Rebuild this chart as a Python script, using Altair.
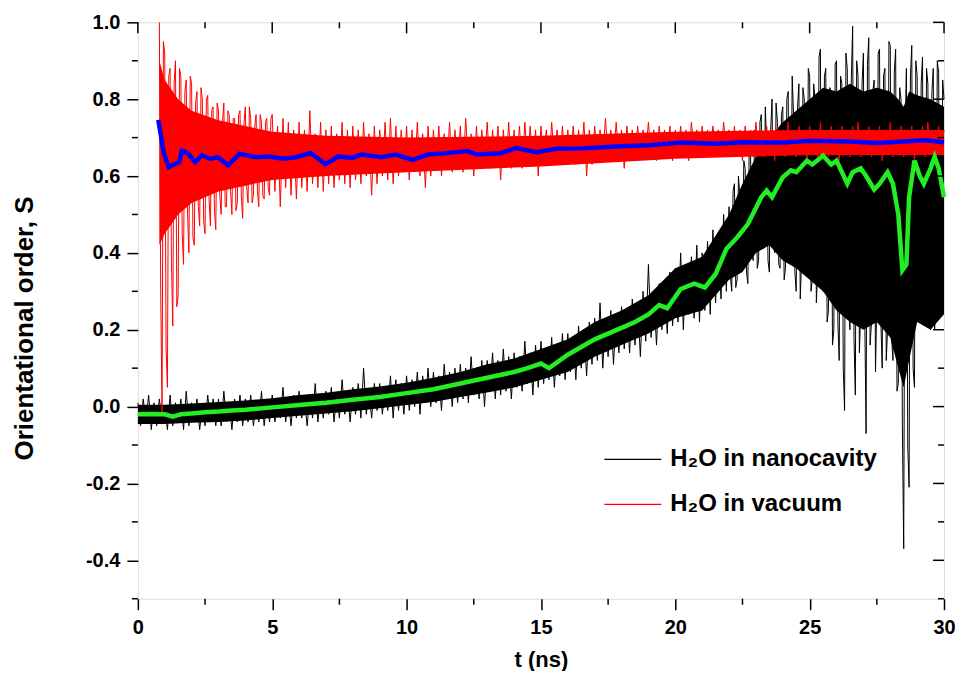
import altair as alt
import pandas as pd

FONT = "Liberation Sans"
W, H = 807, 577

# ---------------- data ----------------
# black: H2O in nanocavity (raw signal, sampled every 0.1 ns from 0 to 30 ns)
black_vals = [
    0.01,-0.05,0.02,-0.04,0.03,-0.06,0.01,-0.05,0.02,-0.04,
    0.00,-0.06,0.03,-0.05,0.01,-0.04,0.02,-0.06,0.04,-0.05,
    0.01,-0.04,0.02,-0.06,0.00,-0.05,0.03,-0.04,0.02,-0.05,
    0.02,-0.05,0.04,-0.04,0.01,-0.06,0.02,-0.04,0.03,-0.05,
    0.02,-0.04,0.03,-0.05,0.01,-0.04,0.04,-0.05,0.02,-0.04,
    0.03,-0.04,0.02,-0.03,0.05,-0.04,0.02,-0.05,0.03,-0.03,
    0.04,-0.03,0.02,-0.05,0.03,-0.03,0.06,-0.04,0.03,-0.03,
    0.04,-0.02,0.05,-0.04,0.03,-0.03,0.07,-0.02,0.04,-0.04,
    0.05,-0.02,0.06,-0.03,0.10,-0.02,0.04,-0.03,0.06,-0.01,
    0.06,-0.02,0.05,-0.01,0.08,-0.03,0.07,-0.01,0.06,-0.02,
    0.08,-0.01,0.07,0.00,0.09,-0.02,0.08,0.01,0.10,0.00,
    0.09,0.01,0.08,-0.01,0.11,0.02,0.09,0.00,0.10,0.01,
    0.11,0.02,0.10,0.01,0.13,0.03,0.10,0.02,0.12,0.00,
    0.12,0.04,0.14,0.02,0.12,0.03,0.15,0.04,0.13,0.02,
    0.14,0.05,0.13,0.04,0.17,0.06,0.14,0.03,0.16,0.05,
    0.17,0.06,0.15,0.07,0.18,0.05,0.16,0.08,0.19,0.07,
    0.19,0.09,0.18,0.07,0.21,0.10,0.20,0.08,0.22,0.11,
    0.23,0.12,0.27,0.10,0.22,0.13,0.25,0.11,0.24,0.14,
    0.26,0.15,0.25,0.14,0.28,0.16,0.27,0.13,0.30,0.17,
    0.37,0.18,0.30,0.16,0.32,0.20,0.31,0.19,0.35,0.21,
    0.36,0.22,0.40,0.20,0.37,0.24,0.39,0.23,0.42,0.22,
    0.40,0.25,0.43,0.24,0.46,0.27,0.44,0.28,0.50,0.30,
    0.52,0.30,0.58,0.33,0.55,0.36,0.62,0.32,0.66,0.38,
    0.70,0.38,0.76,0.42,0.68,0.35,0.80,0.40,0.74,0.36,
    0.78,0.36,0.82,0.40,0.76,0.30,0.84,0.38,0.80,0.34,
    0.86,0.33,0.80,0.36,0.93,0.30,0.88,0.25,0.82,0.20,
    0.90,0.12,0.84,-0.01,0.88,0.20,0.99,0.03,0.86,0.25,
    0.92,-0.07,0.96,0.22,0.85,0.28,0.93,0.10,0.88,0.20,
    0.94,0.12,0.93,0.06,0.80,-0.37,0.88,-0.21,0.94,0.05,
    0.86,0.25,0.91,0.30,0.84,0.20,0.88,0.28,0.87,0.24,
    0.80,
]
black_t0 = 0.0
# extra black samples in the very noisy end part (22.05 ... 29.95 ns, every 0.1 ns)
black_vals_b = [
    0.34,0.56,0.31,0.60,0.37,0.64,0.35,0.68,0.40,0.72,
    0.36,0.74,0.41,0.78,0.38,0.72,0.43,0.79,0.37,0.76,
    0.33,0.80,0.39,0.86,0.35,0.78,0.28,0.83,0.37,0.88,
    0.30,0.84,0.27,0.91,0.33,0.86,0.22,0.83,0.16,0.89,
    0.22,0.86,0.10,0.92,0.26,0.85,0.18,0.90,0.14,0.84,
    0.24,0.89,0.16,0.82,0.09,0.92,0.22,0.86,0.12,0.95,
    0.18,0.87,0.04,0.83,-0.05,0.70,-0.10,0.86,0.10,0.90,
    0.28,0.84,0.22,0.88,0.32,0.82,0.20,0.90,0.26,0.85,
]
black_b_t0 = 22.05

# dense core of the black trace (t, lower, upper)
bcore_t  = [0,1,2,3,4,5,6,7,8,9,10,11,12,13,14,15,16,17,18,19,20,21,
            22,22.5,23,23.5,24,24.5,25,25.5,26,26.5,27,27.5,28,28.3,28.5,28.7,29,29.5,30]
bcore_lo = [-0.045,-0.045,-0.042,-0.04,-0.036,-0.03,-0.024,-0.018,-0.012,-0.004,
            0.004,0.012,0.025,0.037,0.05,0.07,0.09,0.13,0.16,0.19,0.23,0.25,
            0.33,0.35,0.40,0.42,0.38,0.36,0.33,0.30,0.25,0.22,0.20,0.22,0.18,0.10,0.05,0.12,
            0.22,0.20,0.24]
bcore_hi = [0.005,0.005,0.008,0.012,0.016,0.022,0.03,0.036,0.045,0.052,
            0.062,0.075,0.09,0.11,0.125,0.15,0.175,0.22,0.25,0.29,0.36,0.39,
            0.50,0.58,0.65,0.70,0.74,0.77,0.80,0.83,0.82,0.84,0.82,0.83,0.82,0.80,0.78,0.82,
            0.81,0.80,0.78]

# red: H2O in vacuum (raw signal, every 0.1 ns from 0.8 to 30 ns)
red_vals = [
    1.00,-0.02,
    0.92,0.05,0.88,0.21,0.90,0.29,0.86,0.37,0.85,0.40,
    0.84,0.42,0.82,0.47,0.80,0.45,0.81,0.47,0.78,0.46,
    0.77,0.50,0.79,0.52,0.76,0.50,0.75,0.53,0.77,0.49,
    0.78,0.53,0.75,0.55,0.76,0.52,0.74,0.54,0.75,0.55,
    0.76,0.56,0.73,0.52,0.75,0.57,0.74,0.55,0.72,0.54,
    0.74,0.57,0.72,0.56,0.77,0.58,0.71,0.57,0.74,0.56,
    0.72,0.58,0.73,0.57,0.71,0.59,0.74,0.58,0.72,0.57,
    0.73,0.59,0.72,0.58,0.74,0.60,0.71,0.55,0.73,0.58,
    0.72,0.60,0.74,0.59,0.75,0.58,0.73,0.60,0.72,0.61,
    0.73,0.59,0.72,0.61,0.74,0.60,0.71,0.57,0.73,0.60,
    0.72,0.62,0.73,0.60,0.71,0.62,0.74,0.61,0.72,0.62,
    0.73,0.61,0.75,0.63,0.71,0.60,0.73,0.62,0.72,0.63,
    0.74,0.62,0.72,0.63,0.73,0.59,0.72,0.63,0.74,0.62,
    0.72,0.63,0.73,0.62,0.74,0.64,0.73,0.63,0.72,0.60,
    0.73,0.64,0.72,0.63,0.74,0.64,0.72,0.63,0.73,0.64,
    0.72,0.64,0.73,0.63,0.72,0.65,0.74,0.60,0.72,0.63,
    0.73,0.65,0.72,0.64,0.75,0.65,0.72,0.64,0.74,0.65,
    0.72,0.62,0.73,0.65,0.72,0.64,0.73,0.65,0.72,0.66,
    0.74,0.65,0.72,0.64,0.73,0.66,0.72,0.65,0.73,0.64,
    0.72,0.66,0.73,0.65,0.72,0.64,0.74,0.66,0.72,0.65,
    0.73,0.66,0.72,0.65,0.73,0.66,0.72,0.65,0.74,0.66,
    0.72,0.65,0.73,0.66,0.72,0.64,0.73,0.66,0.72,0.65,
    0.74,0.66,0.72,0.65,0.73,0.66,0.72,0.64,0.73,0.66,
    0.72,0.65,0.74,0.66,0.72,0.65,0.73,0.66,0.72,0.64,
    0.73,0.66,0.72,0.65,0.74,0.66,0.72,0.65,0.73,0.66,
    0.72,0.64,0.73,0.66,0.72,0.65,0.73,0.66,0.74,0.65,
    0.72,0.66,0.73,0.65,0.72,0.66,0.73,0.64,0.72,0.66,
    0.74,0.65,0.72,0.66,0.73,0.65,0.72,0.66,0.73,0.64,
    0.72,0.66,0.73,0.65,0.74,0.66,0.72,0.65,0.73,0.66,
    0.72,
]
red_t0 = 0.8
# extra red samples in the noisy start (0.85 ... 4.95 ns, every 0.1 ns)
red_vals_b = [
    0.30,0.95,0.15,0.86,0.38,0.84,0.26,0.88,0.45,0.82,
    0.50,0.86,0.44,0.79,0.52,0.83,0.48,0.80,0.54,0.77,
    0.51,0.79,0.55,0.74,0.52,0.77,0.56,0.75,0.51,0.76,
    0.55,0.74,0.57,0.78,0.53,0.73,0.56,0.76,0.55,0.74,
    0.57,0.75,
]
red_b_t0 = 0.85

rcore_t  = [0.8, 1.0, 1.5, 2, 3, 4, 5, 7, 10, 15, 20, 25, 30]
rcore_lo = [0.42, 0.45, 0.50, 0.53, 0.56, 0.575, 0.59, 0.60, 0.61, 0.625, 0.645, 0.655, 0.655]
rcore_hi = [0.90, 0.85, 0.80, 0.77, 0.745, 0.73, 0.715, 0.705, 0.70, 0.705, 0.715, 0.72, 0.72]

# smoothed curves
green_t = [0,0.5,1,1.3,1.6,2,2.5,3,3.5,4,5,6,7,8,9,10,11,12,13,14,14.5,15,15.3,16,17,18,18.5,19,
           19.4,19.7,20.2,20.7,21.1,21.5,21.9,22.3,22.7,23.2,23.4,23.6,24.0,24.3,24.5,24.9,25.1,
           25.5,25.8,26.0,26.4,26.6,26.9,27.1,27.4,27.6,27.9,28.1,28.3,28.45,28.6,28.7,28.9,29.1,
           29.25,29.5,29.65,29.8,30]
green_S = [-0.02,-0.019,-0.02,-0.026,-0.02,-0.018,-0.015,-0.013,-0.01,-0.008,-0.002,0.004,0.01,
           0.018,0.025,0.035,0.045,0.06,0.075,0.09,0.1,0.112,0.1,0.135,0.175,0.205,0.22,0.24,
           0.264,0.256,0.306,0.32,0.31,0.345,0.41,0.44,0.475,0.545,0.562,0.545,0.597,0.615,0.61,
           0.64,0.63,0.653,0.63,0.64,0.58,0.61,0.62,0.60,0.565,0.58,0.61,0.58,0.50,0.355,0.37,
           0.545,0.64,0.60,0.58,0.62,0.65,0.62,0.545]

blue_t = [0.76,0.97,1.15,1.4,1.55,1.64,1.88,2.13,2.38,2.69,2.98,3.35,3.79,4.4,4.9,5.39,5.88,
          6.43,6.98,7.47,7.96,8.33,9.06,9.6,10.23,10.78,11.4,12.26,12.62,13.48,14.1,14.83,
          15.57,16.55,17.78,19.0,20.23,21.46,22.5,24,25,26.5,27.5,28.5,29.3,30]
blue_S = [0.746,0.658,0.623,0.632,0.636,0.667,0.658,0.636,0.654,0.645,0.649,0.628,0.658,0.649,
          0.651,0.645,0.649,0.66,0.631,0.651,0.647,0.656,0.649,0.656,0.642,0.656,0.659,0.665,
          0.656,0.659,0.673,0.662,0.671,0.672,0.677,0.68,0.687,0.684,0.688,0.687,0.692,0.69,
          0.686,0.69,0.693,0.688]

SERIES = ["H\u2082O in nanocavity", "H\u2082O in vacuum"]
SERIES_COLORS = ["#000000", "#ff0000"]

X_MAJOR = [0, 5, 10, 15, 20, 25, 30]
X_MINOR = [2.5, 7.5, 12.5, 17.5, 22.5, 27.5]
Y_MAJOR = [-0.4, -0.2, 0.0, 0.2, 0.4, 0.6, 0.8, 1.0]
Y_MINOR = [-0.5, -0.3, -0.1, 0.1, 0.3, 0.5, 0.7, 0.9]


# ---------------- tables ----------------
def series_frame(t0, vals):
    return pd.DataFrame({"t": [round(t0 + 0.1 * i, 2) for i in range(len(vals))], "S": vals})


df_black = pd.concat([series_frame(black_t0, black_vals), series_frame(black_b_t0, black_vals_b)])
df_black = df_black.sort_values("t").reset_index(drop=True)
df_black["series"] = SERIES[0]
df_black["order"] = range(len(df_black))
df_red = pd.concat([series_frame(red_t0, red_vals), series_frame(red_b_t0, red_vals_b)])
df_red = df_red.sort_values("t").reset_index(drop=True)
df_red["series"] = SERIES[1]
df_red["order"] = range(len(df_red))

df_bcore = pd.DataFrame({"t": bcore_t, "S": bcore_lo, "S2": bcore_hi})
df_rcore = pd.DataFrame({"t": rcore_t, "S": rcore_lo, "S2": rcore_hi})
df_green = pd.DataFrame({"t": green_t, "S": green_S})
df_blue = pd.DataFrame({"t": blue_t, "S": blue_S})
df_xmaj = pd.DataFrame({"t": X_MAJOR})
df_xmin = pd.DataFrame({"t": X_MINOR})
df_ymaj = pd.DataFrame({"S": Y_MAJOR})
df_ymin = pd.DataFrame({"S": Y_MINOR})

xscale = alt.Scale(domain=[0, 30], nice=False, zero=False)
yscale = alt.Scale(domain=[-0.5, 1.0], nice=False, zero=False)

xaxis = alt.Axis(values=X_MAJOR, title="t (ns)", format="d", grid=False, domain=False,
                 tickSize=11, tickWidth=1.5, tickColor="black",
                 labelFont=FONT, labelFontSize=20, labelFontWeight="bold", labelColor="black",
                 labelPadding=8, labelFlush=False,
                 titleFont=FONT, titleFontSize=22, titleFontWeight="bold", titleColor="black",
                 titlePadding=12)
yaxis = alt.Axis(values=Y_MAJOR, title="Orientational order, S", grid=False, domain=False,
                 labelExpr="datum.value < 0 ? '-' + format(-datum.value, '.1f') : format(datum.value, '.1f')",
                 tickSize=11, tickWidth=1.5, tickColor="black",
                 labelFont=FONT, labelFontSize=20, labelFontWeight="bold", labelColor="black",
                 labelPadding=7, labelFlush=False,
                 titleFont=FONT, titleFontSize=26, titleFontWeight="bold", titleColor="black",
                 titlePadding=48, titleY=306)

X = alt.X("t:Q", scale=xscale, axis=xaxis)
Y = alt.Y("S:Q", scale=yscale, axis=yaxis)

color = alt.Color("series:N",
                  scale=alt.Scale(domain=SERIES, range=SERIES_COLORS),
                  legend=alt.Legend(title=None, orient="none", legendX=466, legendY=408,
                                    symbolType="stroke", symbolSize=3249, symbolStrokeWidth=1.2,
                                    labelFont=FONT, labelFontSize=24, labelFontWeight="bold",
                                    labelColor="black", labelOffset=8, labelLimit=600,
                                    rowPadding=3, padding=0))

bcore = alt.Chart(df_bcore).mark_area(color="black", opacity=1).encode(x=X, y=Y, y2="S2:Q")
bline = alt.Chart(df_black).mark_line(strokeWidth=1).encode(x=X, y=Y, color=color, order="order:Q")
rcore = alt.Chart(df_rcore).mark_area(color="#ff0000", opacity=1).encode(x=X, y=Y, y2="S2:Q")
rline = alt.Chart(df_red).mark_line(strokeWidth=1).encode(x=X, y=Y, color=color, order="order:Q")
gline = alt.Chart(df_green).mark_line(color="#22ee22", strokeWidth=4.5).encode(x=X, y=Y)
uline = alt.Chart(df_blue).mark_line(color="#0000ff", strokeWidth=4.5).encode(x=X, y=Y)

tk = dict(color="black", strokeWidth=1.5)
xb_min = alt.Chart(df_xmin).mark_rule(**tk).encode(x=X, y=alt.value(H), y2=alt.value(H + 6))
xt_maj = alt.Chart(df_xmaj).mark_rule(**tk).encode(x=X, y=alt.value(0), y2=alt.value(11))
xt_min = alt.Chart(df_xmin).mark_rule(**tk).encode(x=X, y=alt.value(0), y2=alt.value(6))
yl_min = alt.Chart(df_ymin).mark_rule(**tk).encode(y=Y, x=alt.value(0), x2=alt.value(-6))
yr_maj = alt.Chart(df_ymaj).mark_rule(**tk).encode(y=Y, x=alt.value(W), x2=alt.value(W - 11))
yr_min = alt.Chart(df_ymin).mark_rule(**tk).encode(y=Y, x=alt.value(W), x2=alt.value(W - 6))

chart = alt.layer(
    bcore, bline, rcore, rline, gline, uline,
    xb_min, xt_maj, xt_min, yl_min, yr_maj, yr_min,
).properties(
    width=W, height=H,
    padding={"left": 3, "top": 4, "right": 0, "bottom": 0},
).configure_view(
    stroke="black", strokeWidth=2
).configure(background="white")

chart.save("out.html", embed_options={"renderer": "svg", "actions": False})
